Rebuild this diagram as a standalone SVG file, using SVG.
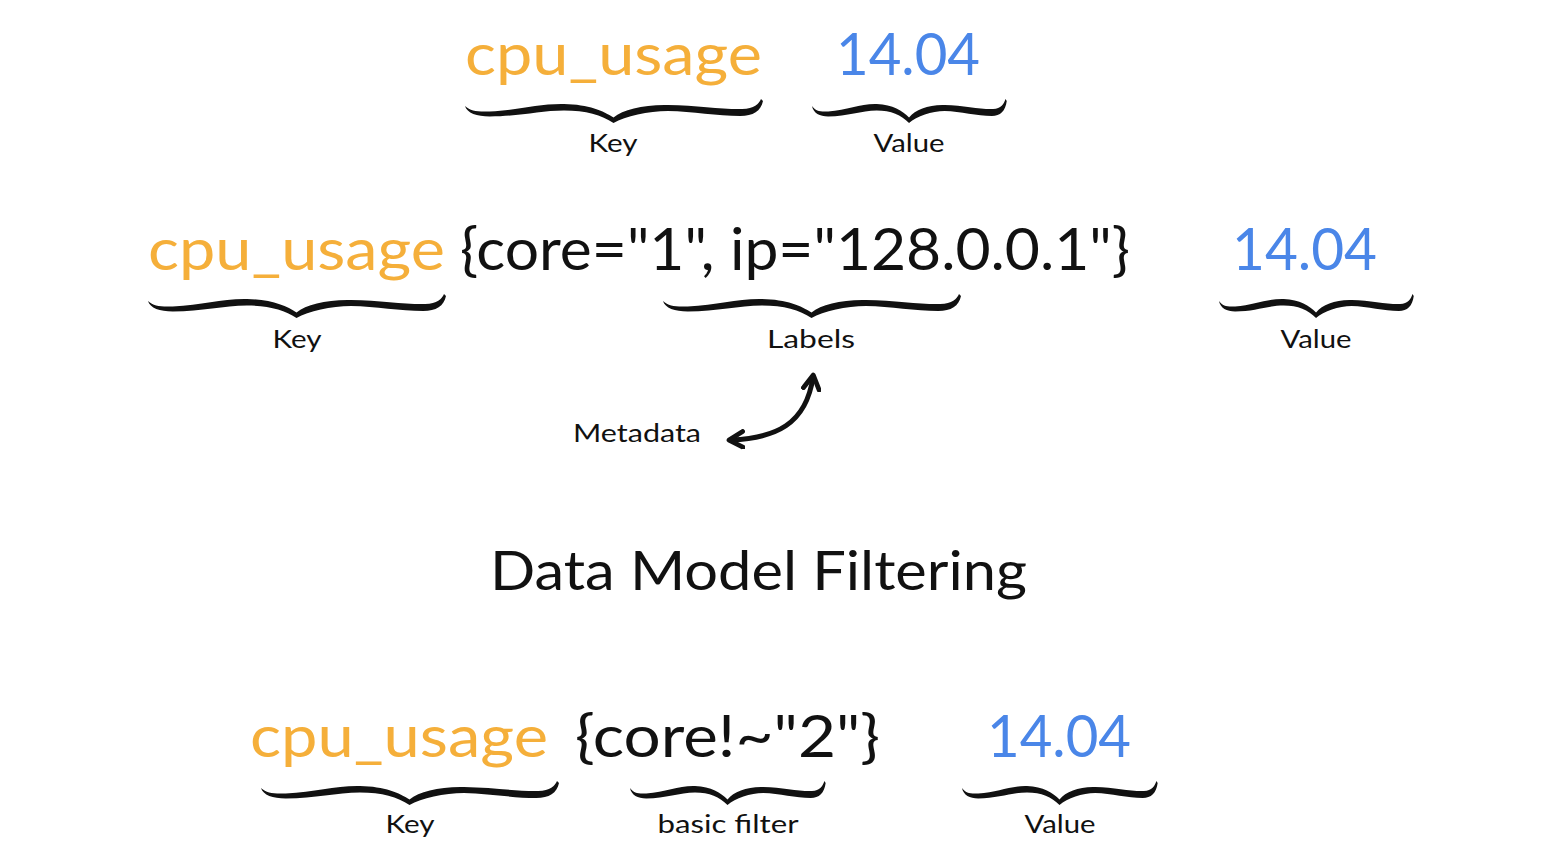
<svg xmlns="http://www.w3.org/2000/svg" width="1568" height="864" viewBox="0 0 1568 864">
<style>
text{font-family:Lato,"Liberation Sans",sans-serif;}
.big{font-size:58px;}
.key{fill:#F5AF3A;}
.val{fill:#4A86E8;}
.blk{fill:#111;}
.lab{font-size:25px;fill:#111;text-anchor:middle;}
.title{font-size:54px;fill:#111;}
.brace{fill:#111;}
.conn{fill:none;stroke:#111;stroke-width:5;stroke-linecap:round;}
</style>
<defs>
<path id="br" d="M0,5 C6,10 12,11 25,10.5 C55,9 75,2.5 100,3 C125,3.5 140,10 150,16.5 C160,8.5 180,3.5 205,4 C235,4.5 260,8.5 280,8 C292,7.5 297,3 299,-2 L301,0 C299,10 291,15 278,15 C255,15 230,10.5 205,10 C185,10 162,15 150,22 C138,14 122,9.5 100,9.5 C76,9.5 55,15.5 25,15.5 C12,15.5 2,12 0,5 Z"/>
<marker id="ah" viewBox="0 0 10 10" refX="7" refY="5" markerWidth="4" markerHeight="4" orient="auto-start-reverse" markerUnits="strokeWidth">
<path d="M1,1 L8,5 L1,9" fill="none" stroke="#111" stroke-width="2.4" stroke-linecap="round" stroke-linejoin="round"/>
</marker>
</defs>
<rect width="1568" height="864" fill="#fff"/>

<g id="row1-key">
<text class="big key" x="465" y="75" textLength="297" lengthAdjust="spacingAndGlyphs">cpu_usage</text>
<use href="#br" class="brace" transform="translate(465,101) scale(0.99,1)"/>
<text class="lab" x="613" y="152" textLength="49" lengthAdjust="spacingAndGlyphs">Key</text>
</g>
<g id="row1-value">
<text class="big val" x="836" y="75" textLength="144" lengthAdjust="spacingAndGlyphs">14.04</text>
<use href="#br" class="brace" transform="translate(812,101) scale(0.647,1)"/>
<text class="lab" x="909" y="152" textLength="71" lengthAdjust="spacingAndGlyphs">Value</text>
</g>

<g id="row2-key">
<text class="big key" x="148" y="270" textLength="297" lengthAdjust="spacingAndGlyphs">cpu_usage</text>
<use href="#br" class="brace" transform="translate(148,296) scale(0.99,1)"/>
<text class="lab" x="297" y="348" textLength="49" lengthAdjust="spacingAndGlyphs">Key</text>
</g>
<g id="row2-labels">
<text class="big blk" x="460" y="270" textLength="670" lengthAdjust="spacingAndGlyphs">{core="1", ip="128.0.0.1"}</text>
<use href="#br" class="brace" transform="translate(663,296) scale(0.99,1)"/>
<text class="lab" x="811" y="348" textLength="88" lengthAdjust="spacingAndGlyphs">Labels</text>
</g>
<g id="row2-value">
<text class="big val" x="1232" y="270" textLength="145" lengthAdjust="spacingAndGlyphs">14.04</text>
<use href="#br" class="brace" transform="translate(1219,296) scale(0.647,1)"/>
<text class="lab" x="1316" y="348" textLength="71" lengthAdjust="spacingAndGlyphs">Value</text>
</g>

<g id="metadata">
<text class="lab" x="637" y="442" textLength="128" lengthAdjust="spacingAndGlyphs">Metadata</text>
</g>

<g id="connectors">
<path class="conn" d="M731,440 C775,438 806,425 813,377" marker-start="url(#ah)" marker-end="url(#ah)"/>
</g>

<g id="title">
<text class="title" x="490" y="590" textLength="537" lengthAdjust="spacingAndGlyphs">Data Model Filtering</text>
</g>

<g id="row3-key">
<text class="big key" x="250" y="757" textLength="298" lengthAdjust="spacingAndGlyphs">cpu_usage</text>
<use href="#br" class="brace" transform="translate(261,783) scale(0.99,1)"/>
<text class="lab" x="410" y="833" textLength="49" lengthAdjust="spacingAndGlyphs">Key</text>
</g>
<g id="row3-filter">
<text class="big blk" x="575" y="757" textLength="305" lengthAdjust="spacingAndGlyphs">{core!~"2"}</text>
<use href="#br" class="brace" transform="translate(630,783) scale(0.65,1)"/>
<text class="lab" x="728" y="833" textLength="141" lengthAdjust="spacingAndGlyphs">basic filter</text>
</g>
<g id="row3-value">
<text class="big val" x="987" y="757" textLength="144" lengthAdjust="spacingAndGlyphs">14.04</text>
<use href="#br" class="brace" transform="translate(962,783) scale(0.65,1)"/>
<text class="lab" x="1060" y="833" textLength="71" lengthAdjust="spacingAndGlyphs">Value</text>
</g>
</svg>
